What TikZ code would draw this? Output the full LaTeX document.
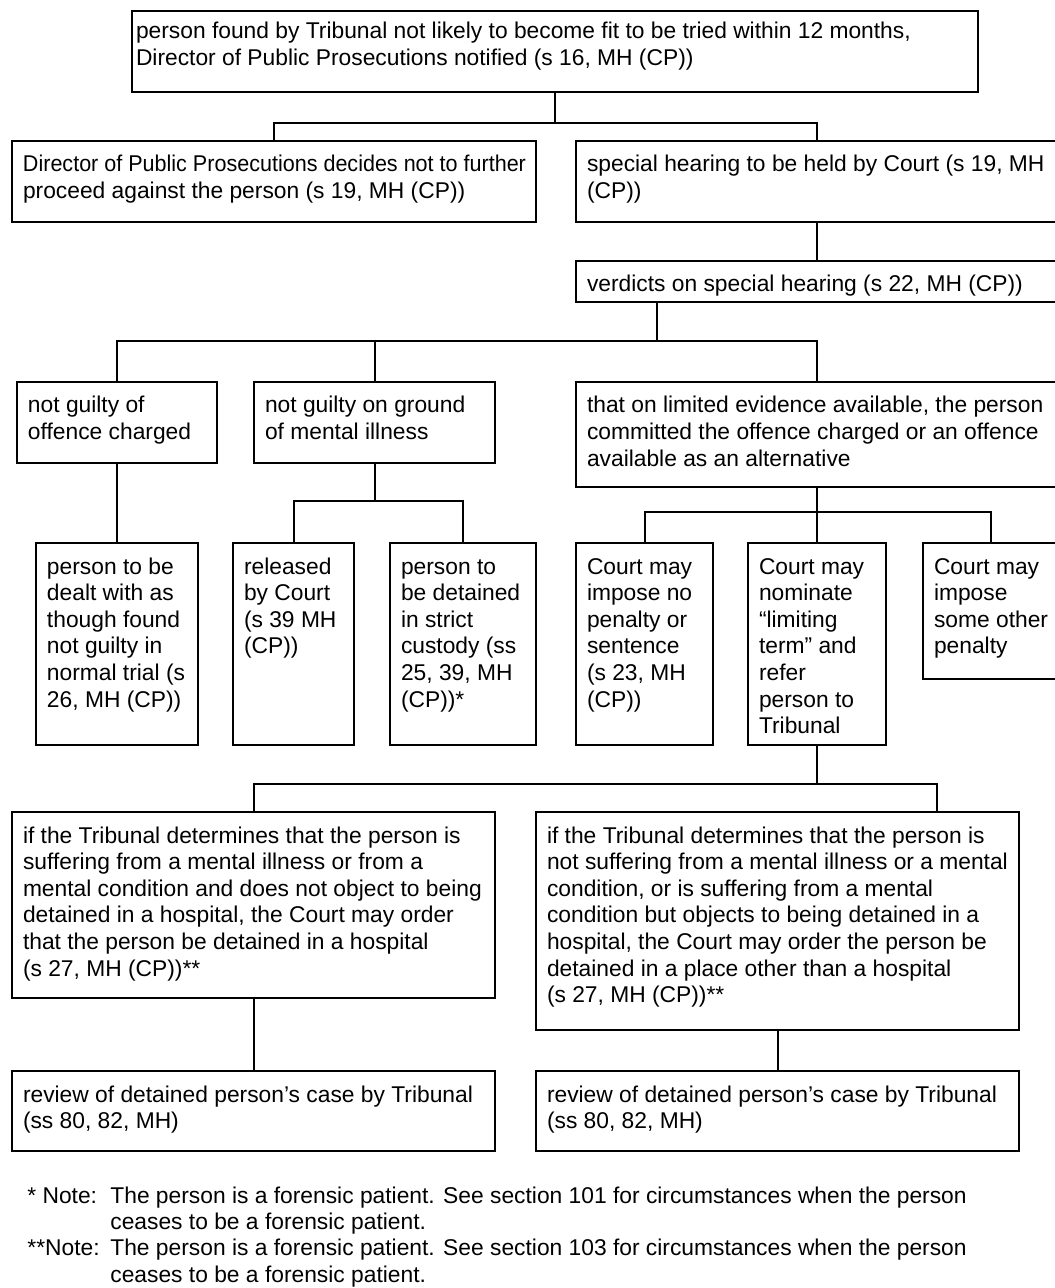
\documentclass[tikz,border=0pt]{standalone}
\usepackage{graphicx}
\usepackage{fontspec}
\setmainfont{Liberation Sans}
% box text: top aligned paragraph with a left margin, lines never rewrapped
\newcommand{\bt}[3][5.5pt]{\parbox[t]{#2}{\raggedright\leftskip=#1\relax\rightskip=-12pt plus 1fil\relax #3}}

\begin{document}
\begin{tikzpicture}[x=0.5pt,y=-0.5pt,
    box/.style={draw, line width=1pt, inner sep=0pt, outer sep=0pt, anchor=north west,
      text height=15.5pt, font=\fontsize{11.4}{13.3}\selectfont},
    link/.style={line width=1pt}]
  \useasboundingbox (0,0) rectangle (1054,1288);

  % first level
  \node[box, text height=14pt, text depth=26.5pt] (top) at (132,11)
    {\bt[2pt]{423pt}{person found by Tribunal not likely to become fit to be tried within 12 months,\\Director of Public Prosecutions notified (s 16, MH (CP))}};
  \node[box, text depth=25pt] (dpp) at (12,141)
    {\bt{262pt}{\scalebox{0.945}[1]{Director of Public Prosecutions decides not to further}\\proceed against the person (s 19, MH (CP))}};
  \node[box, text depth=25pt] (sh) at (576,141)
    {\bt{241pt}{special hearing to be held by Court (s 19, MH\\(CP))}};
  \node[box, text depth=5pt] (verd) at (576,261)
    {\bt{241pt}{verdicts on special hearing (s 22, MH (CP))}};

  % verdicts
  \node[box, text depth=25pt] (ng) at (17,382)
    {\bt{100pt}{not guilty of\\offence charged}};
  \node[box, text depth=25pt] (ngmi) at (254,382)
    {\bt{120.5pt}{not guilty on ground\\of mental illness}};
  \node[box, text depth=37pt] (lim) at (576,382)
    {\bt{241pt}{that on limited evidence available, the person\\committed the offence charged or an offence\\available as an alternative}};

  % outcomes
  \node[box, text depth=85.5pt] (deal) at (36,543)
    {\bt{81pt}{person to be\\dealt with as\\though found\\not guilty in\\normal trial (s\\26, MH (CP))}};
  \node[box, text depth=85.5pt] (rel) at (233,543)
    {\bt{60.5pt}{released\\by Court\\(s 39 MH\\(CP))}};
  \node[box, text depth=85.5pt] (cust) at (390,543)
    {\bt{73pt}{person to\\be detained\\in strict\\custody (ss\\25, 39, MH\\(CP))*}};
  \node[box, text depth=85.5pt] (nopen) at (576,543)
    {\bt{68.5pt}{Court may\\impose no\\penalty or\\sentence\\(s 23, MH\\(CP))}};
  \node[box, text depth=85.5pt] (limt) at (748,543)
    {\bt{69pt}{Court may\\nominate\\“limiting\\term” and\\refer\\person to\\Tribunal}};
  \node[box, text depth=52.5pt] (other) at (923,543)
    {\bt{68pt}{Court may\\impose\\some other\\penalty}};

  % tribunal determinations
  \node[box, text depth=77.5pt] (hosp) at (12,812)
    {\bt{241.5pt}{if the Tribunal determines that the person is\\suffering from a mental illness or from a\\mental condition and does not object to being\\detained in a hospital, the Court may order\\that the person be detained in a hospital\\(s 27, MH (CP))**}};
  \node[box, text depth=93.5pt] (nonhosp) at (536,812)
    {\bt{241.5pt}{if the Tribunal determines that the person is\\not suffering from a mental illness or a mental\\condition, or is suffering from a mental\\condition but objects to being detained in a\\hospital, the Court may order the person be\\detained in a place other than a hospital\\(s 27, MH (CP))**}};
  \node[box, text depth=24.5pt] (rev1) at (12,1071)
    {\bt{241.5pt}{review of detained person’s case by Tribunal\\(ss 80, 82, MH)}};
  \node[box, text depth=24.5pt] (rev2) at (536,1071)
    {\bt{241.5pt}{review of detained person’s case by Tribunal\\(ss 80, 82, MH)}};

  % notes
  \node[font=\fontsize{11.4}{13.2}\selectfont, anchor=base west, inner sep=0pt] (notes) at (27,1203)
    {\begin{tabular}[t]{@{}p{41.5pt}@{}l@{}}
      {}* Note: & The person is a forensic patient. See section 101 for circumstances when the person\\
      & ceases to be a forensic patient.\\
      {}**Note: & The person is a forensic patient. See section 103 for circumstances when the person\\
      & ceases to be a forensic patient.
    \end{tabular}};

  % junctions
  \path (top.south) ++(0,31) coordinate (j1);
  \coordinate (j2) at (657,341);
  \path (ngmi.south) ++(0,38) coordinate (j3);
  \path (lim.south) ++(0,25) coordinate (j4);
  \path (limt.south) ++(0,39) coordinate (j5);
  \coordinate (k1) at (937,812);

  \draw[link] (top.south) -- (j1);
  \draw[link] (dpp.north) |- (j1) -| (sh.north);
  \draw[link] (sh) -- (verd);
  \draw[link] (verd.south -| j2) -- (j2);
  \draw[link] (ng.north) |- (j2) -| (lim.north);
  \draw[link] (ngmi.north) -- (ngmi.north |- j2);
  \draw[link] (ng.south) -- (ng.south |- deal.north);
  \draw[link] (ngmi.south) -- (j3);
  \draw[link] (rel.north) |- (j3) -| (cust.north);
  \draw[link] (lim.south) -- (limt.north);
  \draw[link] (nopen.north) |- (j4) -| (other.north);
  \draw[link] (limt.south) -- (j5);
  \draw[link] (hosp.north) |- (j5) -| (k1);
  \draw[link] (hosp) -- (rev1);
  \draw[link] (nonhosp.south -| 778,0) -- (rev2.north -| 778,0);
\end{tikzpicture}
\end{document}
